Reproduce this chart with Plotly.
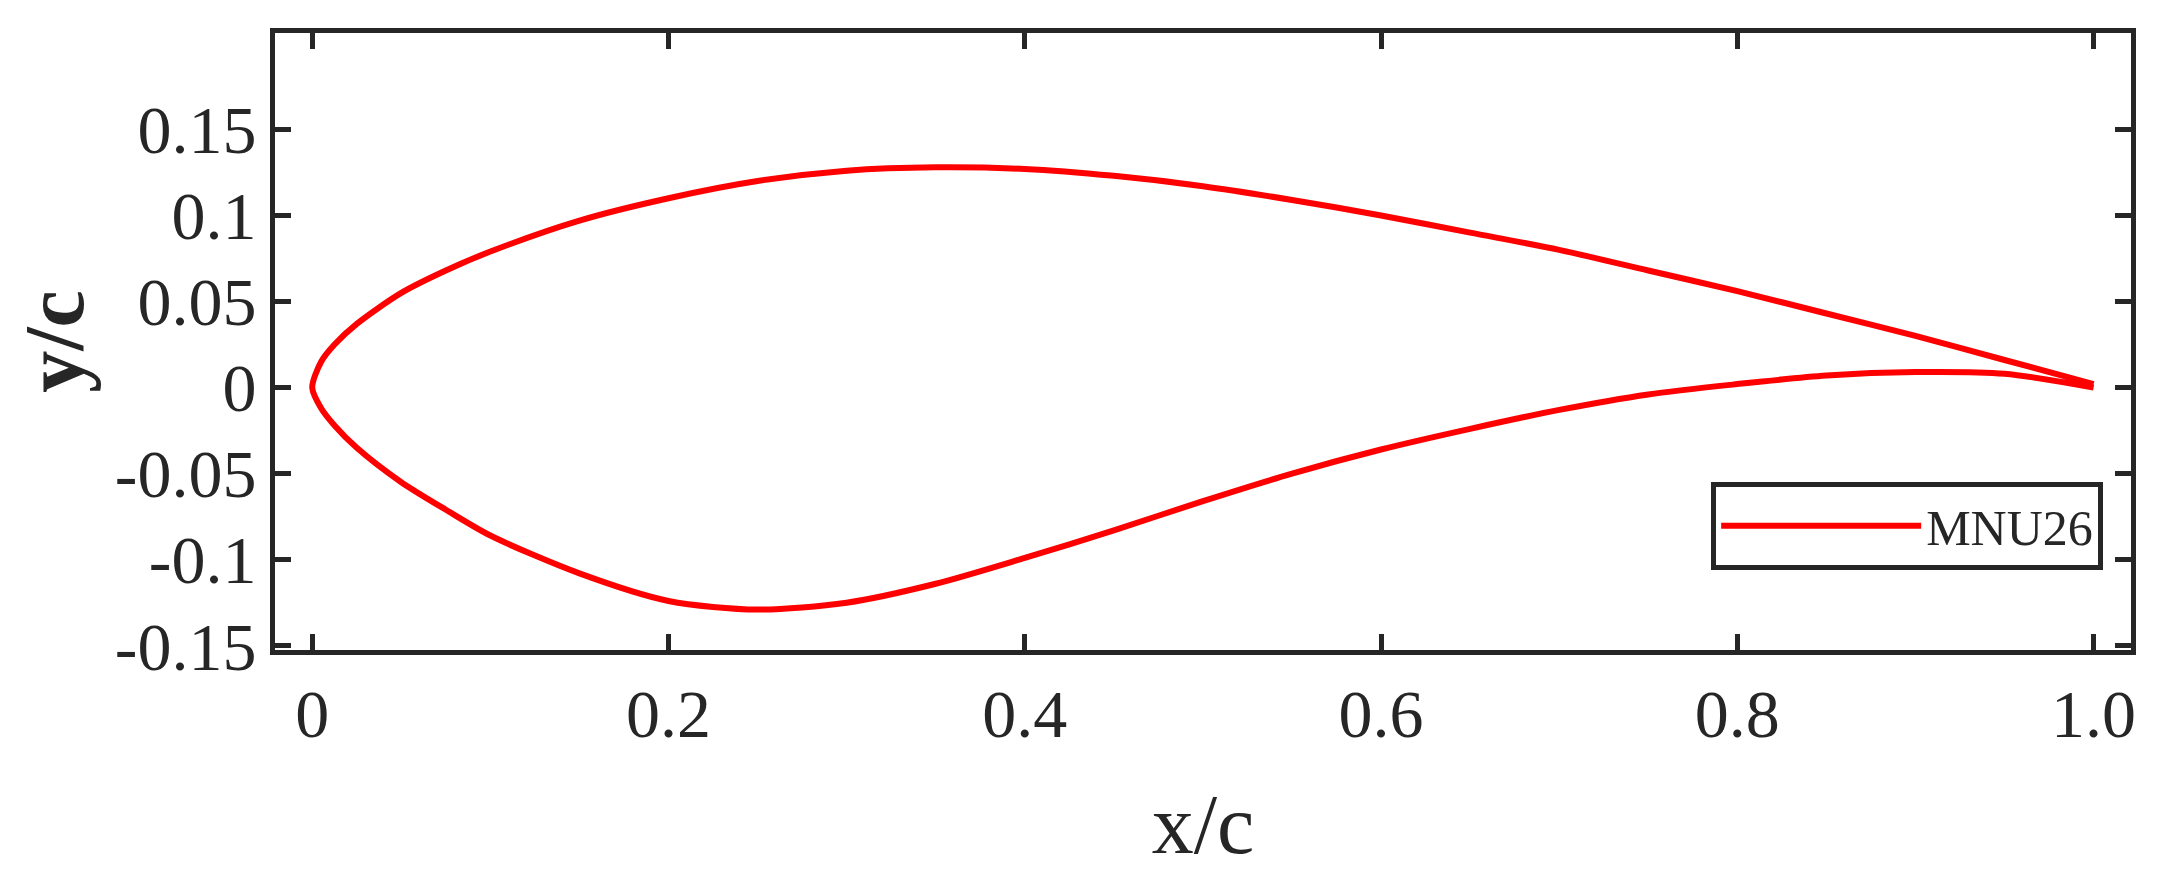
import plotly.graph_objects as go

x_upper = [0, 0.005, 0.0125, 0.025, 0.05, 0.075, 0.1, 0.15, 0.2, 0.25, 0.3, 0.35, 0.4, 0.45,
           0.5, 0.55, 0.6, 0.65, 0.7, 0.75, 0.8, 0.85, 0.9, 0.95, 1.0]
y_upper = [0, 0.015, 0.025, 0.037, 0.055, 0.068, 0.079, 0.097, 0.110, 0.120, 0.126, 0.128, 0.127,
           0.123, 0.117, 0.109, 0.100, 0.090, 0.080, 0.068, 0.056, 0.043, 0.030, 0.016, 0.002]
x_lower = x_upper
y_lower = [0, -0.012, -0.022, -0.035, -0.055, -0.071, -0.086, -0.108, -0.124, -0.129, -0.125,
           -0.114, -0.099, -0.083, -0.066, -0.050, -0.036, -0.024, -0.013, -0.004, 0.002, 0.007,
           0.009, 0.008, 0.0]

xs = x_upper[::-1] + x_lower[1:]
ys = y_upper[::-1] + y_lower[1:]

x_ticks = [0, 0.2, 0.4, 0.6, 0.8, 1.0]
x_labels = ["0", "0.2", "0.4", "0.6", "0.8", "1.0"]
y_ticks = [-0.15, -0.1, -0.05, 0, 0.05, 0.1, 0.15]
y_labels = ["-0.15", "-0.1", "-0.05", "0", "0.05", "0.1", "0.15"]

fig = go.Figure()
fig.add_trace(go.Scatter(x=xs, y=ys, mode="lines", name="MNU26",
                         line=dict(color="#ff0000", width=6, shape="spline", smoothing=0.8)))

axis_common = dict(showline=True, linecolor="#262626", linewidth=5, mirror="ticks",
                   ticks="inside", ticklen=16, tickwidth=5, tickcolor="#262626",
                   showgrid=False, zeroline=False,
                   tickfont=dict(family="Liberation Serif", size=68, color="#262626"))

fig.update_layout(
    width=2166, height=881,
    paper_bgcolor="white", plot_bgcolor="white",
    margin=dict(l=267, r=43, t=25, b=239),
    font=dict(family="Liberation Serif", color="#262626"),
    xaxis=dict(range=[-0.0209, 1.021], tickvals=x_ticks, ticktext=x_labels,
               title=dict(text="x/c", font=dict(size=84), standoff=45), **axis_common),
    yaxis=dict(range=[-0.1525, 0.206], tickvals=y_ticks, ticktext=y_labels,
               title=dict(text="<b>y/c</b>", font=dict(size=84), standoff=15), **axis_common),
    legend=dict(x=0.985, y=0.13, xanchor="right", yanchor="bottom",
                bordercolor="#262626", borderwidth=5, bgcolor="white",
                font=dict(size=50, family="Liberation Serif"), itemwidth=200),
    showlegend=True,
)

fig.write_html("out.html")
